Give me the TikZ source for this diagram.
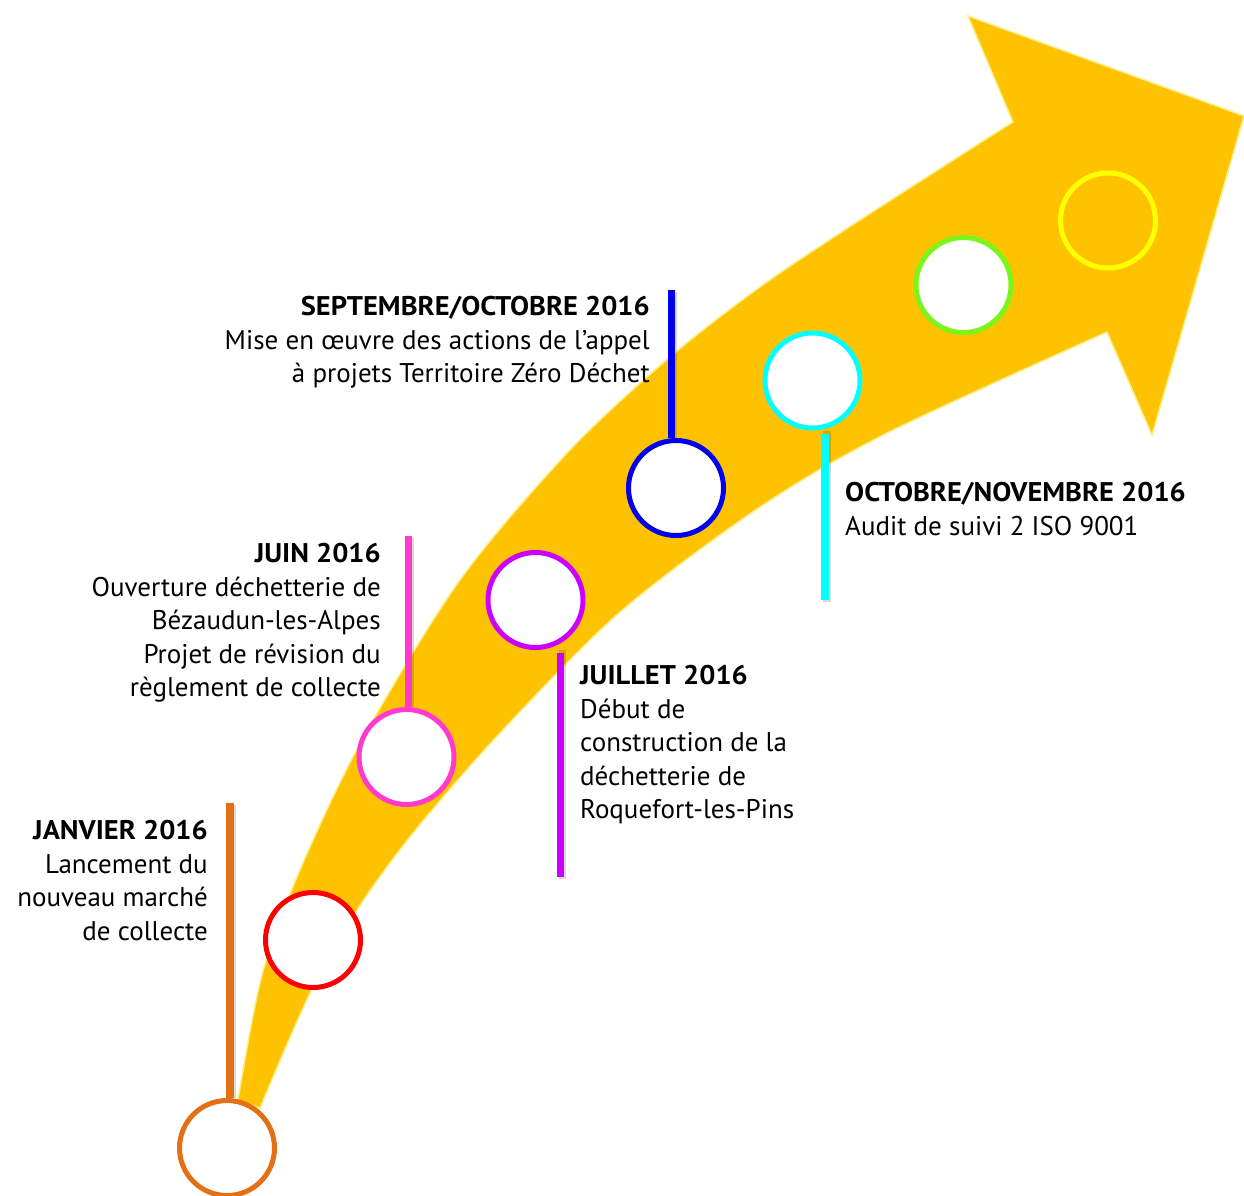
\documentclass[tikz,border=0pt]{standalone}
\usepackage{fontspec}
\setmainfont{PT Sans}[BoldFeatures={FakeStretch=1.055}]
\definecolor{arrowyellow}{RGB}{254,194,0}
\definecolor{arrowedge}{RGB}{250,238,130}
\definecolor{corange}{RGB}{227,112,20}
\definecolor{cred}{RGB}{255,0,0}
\definecolor{cpink}{RGB}{255,58,205}
\definecolor{cpurple}{RGB}{204,0,255}
\definecolor{cblue}{RGB}{0,0,238}
\definecolor{ccyan}{RGB}{0,255,255}
\definecolor{cgreen}{RGB}{124,246,26}
\definecolor{cyellow}{RGB}{255,255,0}
\begin{document}
\begin{tikzpicture}[x=1pt,y=-1pt,
  circ/.style={circle,minimum size=95pt,inner sep=0pt,line width=5pt,fill=white},
  stem/.style={line width=7.5pt},
  stemshadow/.style={line width=7.5pt,black,opacity=0.15},
  lbl/.style={inner sep=0pt,font=\fontsize{27}{33.6}\selectfont,text=black}]
\useasboundingbox (0,0) rectangle (1244,1195);
% arrow body
\path[fill=arrowyellow,draw=arrowedge,line width=1.5pt,line join=miter]
  plot[smooth,tension=0.5] coordinates {(260,1108) (310,993) (357,910) (413,833) (500,733) (620,612) (760,507) (887,433) (1107,332)}
  -- (1152,435) -- (1244,116) -- (968,16) --
  plot[smooth,tension=0.5] coordinates {(1013,122) (857,222) (760,287) (670,357) (570,450) (460,580) (362,740) (300,870) (262,975) (238,1100)}
  -- cycle;
% stem ends
\coordinate (s1) at (230,803);
\coordinate (s3) at (408.5,536);
\coordinate (s4) at (560.5,877);
\coordinate (s5) at (671.5,290);
\coordinate (s6) at (825,600);
% circles
\node[circ,draw=corange] (c1) at (227,1148) {};
\node[circ,draw=cred] (c2) at (313,940) {};
\node[circ,draw=cpink] (c3) at (406.5,757) {};
\node[circ,draw=cpurple] (c4) at (535.5,600) {};
\node[circ,draw=cblue] (c5) at (676,488) {};
\node[circ,draw=ccyan] (c6) at (812.5,380.5) {};
\node[circ,draw=cgreen] (c7) at (963.5,285) {};
\node[circ,draw=cyellow,fill=none] (c8) at (1108,220.5) {};
% stems
\draw[stemshadow] ([shift={(2,2)}]s1) -- ([shift={(2,0)}]s1 |- c1.north);
\draw[stem,corange] (s1) -- (s1 |- c1.north);
\draw[stemshadow] ([shift={(2,2)}]s3) -- ([shift={(2,0)}]s3 |- c3.north);
\draw[stem,cpink] (s3) -- (s3 |- c3.north);
\draw[stemshadow] ([shift={(2,2)}]s4) -- ([shift={(2,0)}]s4 |- c4.south);
\draw[stem,cpurple] (s4) -- ([yshift=-3]s4 |- c4.south);
\draw[stemshadow] ([shift={(2,2)}]s5) -- ([shift={(2,0)}]s5 |- c5.north);
\draw[stem,cblue] (s5) -- (s5 |- c5.north);
\draw[stemshadow] ([shift={(2,2)}]s6) -- ([shift={(2,0)}]s6 |- c6.south);
\draw[stem,ccyan] (s6) -- ([yshift=-3]s6 |- c6.south);
% labels
\node[lbl,anchor=north east,align=right] (t1) at (208,820)
  {\textbf{JANVIER 2016}\\Lancement du\\nouveau marché\\de collecte};
\node[lbl,anchor=north east,align=right] (t3) at (381,543)
  {\textbf{JUIN 2016}\\Ouverture déchetterie de\\Bézaudun-les-Alpes\\Projet de révision du\\règlement de collecte};
\node[lbl,anchor=north west,align=left] (t4) at (580,665)
  {\textbf{JUILLET 2016}\\Début de\\construction de la\\déchetterie de\\Roquefort-les-Pins};
\node[lbl,anchor=north east,align=right] (t5) at (650,296)
  {\textbf{SEPTEMBRE/OCTOBRE 2016}\\Mise en œuvre des actions de l’appel\\à projets Territoire Zéro Déchet};
\node[lbl,anchor=north west,align=left] (t6) at (845,482)
  {\textbf{OCTOBRE/NOVEMBRE 2016}\\Audit de suivi 2 ISO 9001};
\end{tikzpicture}
\end{document}
